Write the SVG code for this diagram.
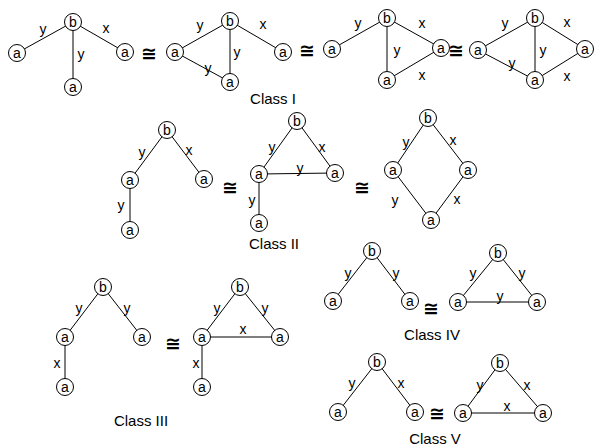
<svg xmlns="http://www.w3.org/2000/svg" width="600" height="448" viewBox="0 0 600 448">
<style>
.e{stroke:#000;stroke-width:1;fill:none}
.n circle{fill:#fff;stroke:#000;stroke-width:1}
.n text{font-family:"Liberation Sans",Arial,sans-serif;font-size:14px;text-anchor:middle;dominant-baseline:central}
.l{font-family:"Liberation Sans",Arial,sans-serif;font-size:14px;text-anchor:middle;dominant-baseline:central}
.c{font-family:"Liberation Sans",Arial,sans-serif;font-size:15px;text-anchor:middle}
.q{font-family:"DejaVu Sans",sans-serif;font-size:19px;font-weight:bold;text-anchor:middle;dominant-baseline:central}
</style>
<g id="connectors">
<line class="e" x1="73" y1="22" x2="17" y2="53"/>
<line class="e" x1="73" y1="22" x2="73" y2="87"/>
<line class="e" x1="73" y1="22" x2="125" y2="52"/>
<line class="e" x1="230" y1="21" x2="175" y2="52"/>
<line class="e" x1="230" y1="21" x2="283" y2="52"/>
<line class="e" x1="230" y1="21" x2="230" y2="82"/>
<line class="e" x1="175" y1="52" x2="230" y2="82"/>
<line class="e" x1="387" y1="18" x2="332" y2="49"/>
<line class="e" x1="387" y1="18" x2="441" y2="48"/>
<line class="e" x1="387" y1="18" x2="387" y2="80"/>
<line class="e" x1="441" y1="48" x2="387" y2="80"/>
<line class="e" x1="535" y1="18" x2="478" y2="50"/>
<line class="e" x1="535" y1="18" x2="585" y2="49"/>
<line class="e" x1="535" y1="18" x2="535" y2="80"/>
<line class="e" x1="478" y1="50" x2="535" y2="80"/>
<line class="e" x1="585" y1="49" x2="535" y2="80"/>
<line class="e" x1="167" y1="130" x2="130" y2="180"/>
<line class="e" x1="167" y1="130" x2="204" y2="179"/>
<line class="e" x1="130" y1="180" x2="130" y2="230"/>
<line class="e" x1="297" y1="121" x2="259" y2="174"/>
<line class="e" x1="297" y1="121" x2="335" y2="173"/>
<line class="e" x1="259" y1="174" x2="335" y2="173"/>
<line class="e" x1="259" y1="174" x2="259" y2="223"/>
<line class="e" x1="428" y1="118" x2="393" y2="170"/>
<line class="e" x1="428" y1="118" x2="468" y2="170"/>
<line class="e" x1="393" y1="170" x2="431" y2="220"/>
<line class="e" x1="468" y1="170" x2="431" y2="220"/>
<line class="e" x1="103" y1="287" x2="65" y2="337"/>
<line class="e" x1="103" y1="287" x2="142" y2="337"/>
<line class="e" x1="65" y1="337" x2="65" y2="387"/>
<line class="e" x1="240" y1="287" x2="202" y2="337"/>
<line class="e" x1="240" y1="287" x2="280" y2="337"/>
<line class="e" x1="202" y1="337" x2="280" y2="337"/>
<line class="e" x1="202" y1="337" x2="202" y2="387"/>
<line class="e" x1="372" y1="251" x2="333" y2="301"/>
<line class="e" x1="372" y1="251" x2="410" y2="301"/>
<line class="e" x1="498" y1="253" x2="458" y2="302"/>
<line class="e" x1="498" y1="253" x2="537" y2="302"/>
<line class="e" x1="458" y1="302" x2="537" y2="302"/>
<line class="e" x1="377" y1="362" x2="338" y2="412"/>
<line class="e" x1="377" y1="362" x2="415" y2="412"/>
<line class="e" x1="500" y1="363" x2="463" y2="413"/>
<line class="e" x1="500" y1="363" x2="543" y2="413"/>
<line class="e" x1="463" y1="413" x2="543" y2="413"/>
</g>
<g id="edge-labels">
<text class="l" x="43" y="29">y</text><text class="l" x="106" y="28">x</text><text class="l" x="81" y="54">y</text>
<text class="l" x="200" y="25">y</text><text class="l" x="263" y="24">x</text><text class="l" x="237" y="52">y</text><text class="l" x="208" y="68">y</text>
<text class="l" x="358" y="23">y</text><text class="l" x="422" y="23">x</text><text class="l" x="397" y="50">y</text><text class="l" x="422" y="75">x</text>
<text class="l" x="505" y="23">y</text><text class="l" x="567" y="22">x</text><text class="l" x="543" y="50">y</text><text class="l" x="512" y="63">y</text><text class="l" x="567" y="76">x</text>
<text class="l" x="142" y="152">y</text><text class="l" x="189" y="150">x</text><text class="l" x="121" y="205">y</text>
<text class="l" x="272" y="147">y</text><text class="l" x="322" y="147">x</text><text class="l" x="300" y="168">y</text><text class="l" x="252" y="200">y</text>
<text class="l" x="406" y="142">y</text><text class="l" x="453" y="140">x</text><text class="l" x="395" y="200">y</text><text class="l" x="457" y="199">x</text>
<text class="l" x="79" y="308">y</text><text class="l" x="127" y="308">y</text><text class="l" x="57" y="363">x</text>
<text class="l" x="217" y="308">y</text><text class="l" x="265" y="308">y</text><text class="l" x="243" y="329">x</text><text class="l" x="196" y="363">x</text>
<text class="l" x="348" y="273">y</text><text class="l" x="396" y="273">y</text>
<text class="l" x="473" y="273">y</text><text class="l" x="522" y="273">y</text><text class="l" x="500" y="296">y</text>
<text class="l" x="352" y="383">y</text><text class="l" x="401" y="383">x</text>
<text class="l" x="480" y="385">y</text><text class="l" x="527" y="385">x</text><text class="l" x="507" y="406">x</text>
</g>
<g id="iso">
<text class="q" x="149" y="53">≅</text>
<text class="q" x="307" y="50">≅</text>
<text class="q" x="456" y="50">≅</text>
<text class="q" x="230" y="187">≅</text>
<text class="q" x="362" y="187">≅</text>
<text class="q" x="173" y="343">≅</text>
<text class="q" x="431" y="308">≅</text>
<text class="q" x="437" y="413">≅</text>
</g>
<g id="class-labels">
<text class="c" x="273" y="104">Class I</text>
<text class="c" x="274" y="249">Class II</text>
<text class="c" x="141" y="426">Class III</text>
<text class="c" x="432" y="340">Class IV</text>
<text class="c" x="435" y="444">Class V</text>
</g>
<g id="g1-b" class="n"><circle cx="73" cy="22" r="8.5"/><text x="73" y="22">b</text></g>
<g id="g1-a1" class="n"><circle cx="17" cy="53" r="8.5"/><text x="17" y="53">a</text></g>
<g id="g1-a2" class="n"><circle cx="125" cy="52" r="8.5"/><text x="125" y="52">a</text></g>
<g id="g1-a3" class="n"><circle cx="73" cy="87" r="8.5"/><text x="73" y="87">a</text></g>
<g id="g2-b" class="n"><circle cx="230" cy="21" r="8.5"/><text x="230" y="21">b</text></g>
<g id="g2-a1" class="n"><circle cx="175" cy="52" r="8.5"/><text x="175" y="52">a</text></g>
<g id="g2-a2" class="n"><circle cx="283" cy="52" r="8.5"/><text x="283" y="52">a</text></g>
<g id="g2-a3" class="n"><circle cx="230" cy="82" r="8.5"/><text x="230" y="82">a</text></g>
<g id="g3-b" class="n"><circle cx="387" cy="18" r="8.5"/><text x="387" y="18">b</text></g>
<g id="g3-a1" class="n"><circle cx="332" cy="49" r="8.5"/><text x="332" y="49">a</text></g>
<g id="g3-a2" class="n"><circle cx="441" cy="48" r="8.5"/><text x="441" y="48">a</text></g>
<g id="g3-a3" class="n"><circle cx="387" cy="80" r="8.5"/><text x="387" y="80">a</text></g>
<g id="g4-b" class="n"><circle cx="535" cy="18" r="8.5"/><text x="535" y="18">b</text></g>
<g id="g4-a1" class="n"><circle cx="478" cy="50" r="8.5"/><text x="478" y="50">a</text></g>
<g id="g4-a2" class="n"><circle cx="585" cy="49" r="8.5"/><text x="585" y="49">a</text></g>
<g id="g4-a3" class="n"><circle cx="535" cy="80" r="8.5"/><text x="535" y="80">a</text></g>
<g id="g5-b" class="n"><circle cx="167" cy="130" r="8.5"/><text x="167" y="130">b</text></g>
<g id="g5-a1" class="n"><circle cx="130" cy="180" r="8.5"/><text x="130" y="180">a</text></g>
<g id="g5-a2" class="n"><circle cx="204" cy="179" r="8.5"/><text x="204" y="179">a</text></g>
<g id="g5-a3" class="n"><circle cx="130" cy="230" r="8.5"/><text x="130" y="230">a</text></g>
<g id="g6-b" class="n"><circle cx="297" cy="121" r="8.5"/><text x="297" y="121">b</text></g>
<g id="g6-a1" class="n"><circle cx="259" cy="174" r="8.5"/><text x="259" y="174">a</text></g>
<g id="g6-a2" class="n"><circle cx="335" cy="173" r="8.5"/><text x="335" y="173">a</text></g>
<g id="g6-a3" class="n"><circle cx="259" cy="223" r="8.5"/><text x="259" y="223">a</text></g>
<g id="g7-b" class="n"><circle cx="428" cy="118" r="8.5"/><text x="428" y="118">b</text></g>
<g id="g7-a1" class="n"><circle cx="393" cy="170" r="8.5"/><text x="393" y="170">a</text></g>
<g id="g7-a2" class="n"><circle cx="468" cy="170" r="8.5"/><text x="468" y="170">a</text></g>
<g id="g7-a3" class="n"><circle cx="431" cy="220" r="8.5"/><text x="431" y="220">a</text></g>
<g id="g8-b" class="n"><circle cx="103" cy="287" r="8.5"/><text x="103" y="287">b</text></g>
<g id="g8-a1" class="n"><circle cx="65" cy="337" r="8.5"/><text x="65" y="337">a</text></g>
<g id="g8-a2" class="n"><circle cx="142" cy="337" r="8.5"/><text x="142" y="337">a</text></g>
<g id="g8-a3" class="n"><circle cx="65" cy="387" r="8.5"/><text x="65" y="387">a</text></g>
<g id="g9-b" class="n"><circle cx="240" cy="287" r="8.5"/><text x="240" y="287">b</text></g>
<g id="g9-a1" class="n"><circle cx="202" cy="337" r="8.5"/><text x="202" y="337">a</text></g>
<g id="g9-a2" class="n"><circle cx="280" cy="337" r="8.5"/><text x="280" y="337">a</text></g>
<g id="g9-a3" class="n"><circle cx="202" cy="387" r="8.5"/><text x="202" y="387">a</text></g>
<g id="g10-b" class="n"><circle cx="372" cy="251" r="8.5"/><text x="372" y="251">b</text></g>
<g id="g10-a1" class="n"><circle cx="333" cy="301" r="8.5"/><text x="333" y="301">a</text></g>
<g id="g10-a2" class="n"><circle cx="410" cy="301" r="8.5"/><text x="410" y="301">a</text></g>
<g id="g11-b" class="n"><circle cx="498" cy="253" r="8.5"/><text x="498" y="253">b</text></g>
<g id="g11-a1" class="n"><circle cx="458" cy="302" r="8.5"/><text x="458" y="302">a</text></g>
<g id="g11-a2" class="n"><circle cx="537" cy="302" r="8.5"/><text x="537" y="302">a</text></g>
<g id="g12-b" class="n"><circle cx="377" cy="362" r="8.5"/><text x="377" y="362">b</text></g>
<g id="g12-a1" class="n"><circle cx="338" cy="412" r="8.5"/><text x="338" y="412">a</text></g>
<g id="g12-a2" class="n"><circle cx="415" cy="412" r="8.5"/><text x="415" y="412">a</text></g>
<g id="g13-b" class="n"><circle cx="500" cy="363" r="8.5"/><text x="500" y="363">b</text></g>
<g id="g13-a1" class="n"><circle cx="463" cy="413" r="8.5"/><text x="463" y="413">a</text></g>
<g id="g13-a2" class="n"><circle cx="543" cy="413" r="8.5"/><text x="543" y="413">a</text></g>
</svg>
